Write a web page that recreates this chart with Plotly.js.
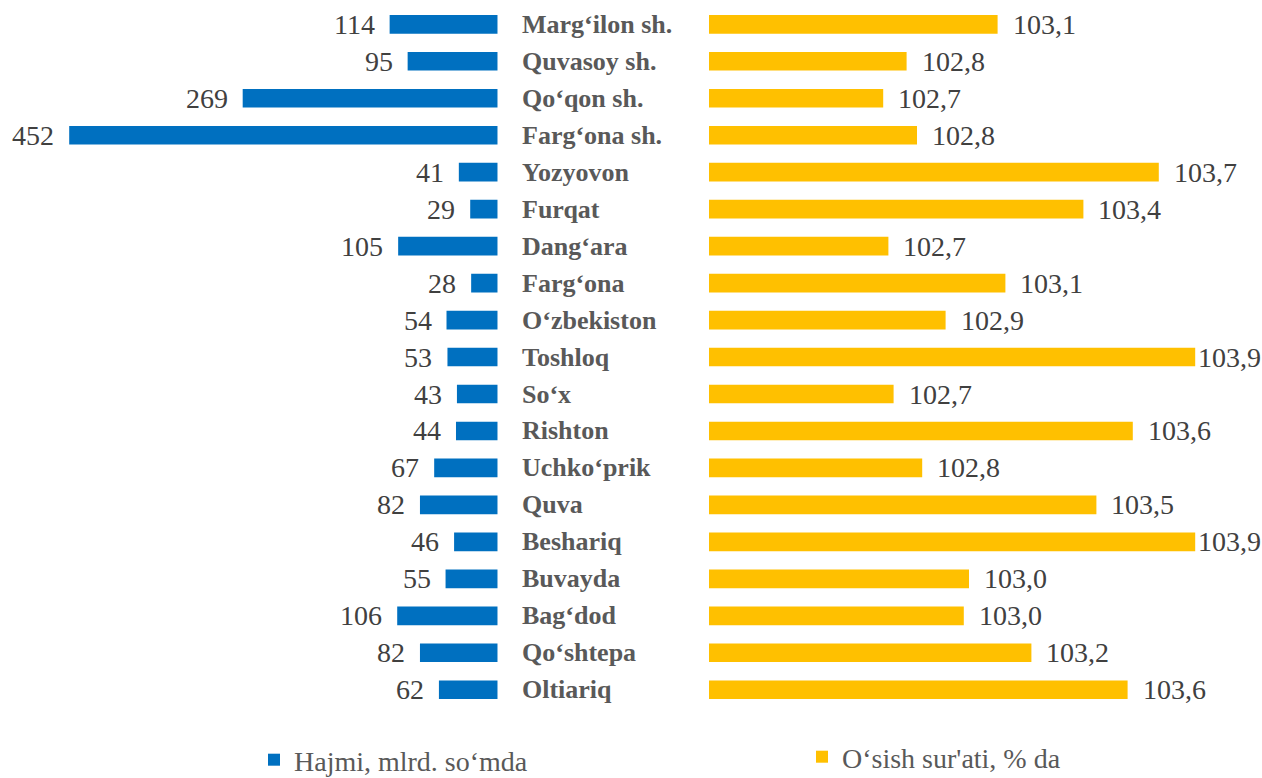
<!DOCTYPE html>
<html>
<head>
<meta charset="utf-8">
<script src="https://cdn.plot.ly/plotly-3.0.1.min.js"></script>
<style>html,body{margin:0;padding:0;background:#fff;}#chart{width:1262px;height:778px;}</style>
</head>
<body>
<div id="chart"></div>
<script>
const categories = ["Marg‘ilon sh.", "Quvasoy sh.", "Qo‘qon sh.", "Farg‘ona sh.", "Yozyovon", "Furqat", "Dang‘ara", "Farg‘ona", "O‘zbekiston", "Toshloq", "So‘x", "Rishton", "Uchko‘prik", "Quva", "Beshariq", "Buvayda", "Bag‘dod", "Qo‘shtepa", "Oltiariq"];
const volume = [114, 95, 269, 452, 41, 29, 105, 28, 54, 53, 43, 44, 67, 82, 46, 55, 106, 82, 62];
const growth = [103.11, 102.76, 102.67, 102.80, 103.73, 103.44, 102.69, 103.14, 102.91, 103.87, 102.71, 103.63, 102.82, 103.49, 103.87, 103.00, 102.98, 103.24, 103.61];
const volumeName = "Hajmi, mlrd. so‘mda";
const growthName = "O‘sish sur'ati, % da";

const W = 1262, H = 778;
const serif = "Liberation Serif, Times New Roman, serif";
const fmt = v => v.toFixed(1).replace('.', ',');

const g0 = 102, gPx = 260, gStart = 709;
const x2Range = [g0, g0 + (W - gStart) / gPx];

const traces = [
  {type: 'bar', orientation: 'h', y: categories, x: volume, xaxis: 'x', yaxis: 'y',
   name: volumeName, marker: {color: '#0070C0'}, hoverinfo: 'skip', legend: 'legend'},
  {type: 'bar', orientation: 'h', y: categories, x: growth, xaxis: 'x2', yaxis: 'y2',
   name: growthName, marker: {color: '#FFC000'}, hoverinfo: 'skip', legend: 'legend2'}
];

const annotations = [];
categories.forEach((c, i) => {
  annotations.push({xref: 'paper', yref: 'y', x: 520 / W, y: c, xanchor: 'left', yanchor: 'middle',
    text: '<b>' + c + '</b>', showarrow: false, font: {family: serif, size: 26, color: '#595959'}});
  annotations.push({xref: 'x', yref: 'y', x: volume[i], y: c, xanchor: 'right', yanchor: 'middle', xshift: -13,
    text: String(volume[i]), showarrow: false, font: {family: serif, size: 28, color: '#404040'}});
  // label kept inside the chart when it would run past the right edge
  const endPx = gStart + (growth[i] - g0) * gPx;
  const fits = endPx + 15 + 64 <= W;
  annotations.push(fits
    ? {xref: 'x2', yref: 'y2', x: growth[i], y: c, xanchor: 'left', yanchor: 'middle', xshift: 13,
       text: fmt(growth[i]), showarrow: false, font: {family: serif, size: 28, color: '#404040'}}
    : {xref: 'paper', yref: 'y2', x: 1, y: c, xanchor: 'right', yanchor: 'middle', xshift: 1,
       text: fmt(growth[i]), showarrow: false, font: {family: serif, size: 28, color: '#404040'}});
});

const rowPx = 36.97, firstRow = 24.3;
const yTop = -firstRow / rowPx, yBot = yTop + H / rowPx;

const layout = {
  width: W, height: H,
  margin: {l: 0, r: 0, t: 0, b: 0, autoexpand: false},
  paper_bgcolor: '#fff', plot_bgcolor: '#fff',
  bargap: 0.495,
  showlegend: true,
  font: {family: serif},
  xaxis: {domain: [0, 497.7 / W], range: [525, 0], visible: false, fixedrange: true},
  xaxis2: {domain: [gStart / W, 1], range: x2Range, visible: false, fixedrange: true},
  yaxis: {type: 'category', range: [yBot, yTop], visible: false, fixedrange: true, anchor: 'x'},
  yaxis2: {type: 'category', range: [yBot, yTop], visible: false, fixedrange: true, anchor: 'x2', matches: 'y'},
  legend: {x: 254 / W, y: 1 - 760 / H, xanchor: 'left', yanchor: 'middle', bgcolor: 'rgba(0,0,0,0)',
    font: {family: serif, size: 28, color: '#595959'}},
  legend2: {x: 802 / W, y: 1 - 757 / H, xanchor: 'left', yanchor: 'middle', bgcolor: 'rgba(0,0,0,0)',
    font: {family: serif, size: 28, color: '#595959'}},
  annotations: annotations
};

Plotly.newPlot('chart', traces, layout, {displayModeBar: false, staticPlot: true});
</script>
</body>
</html>
